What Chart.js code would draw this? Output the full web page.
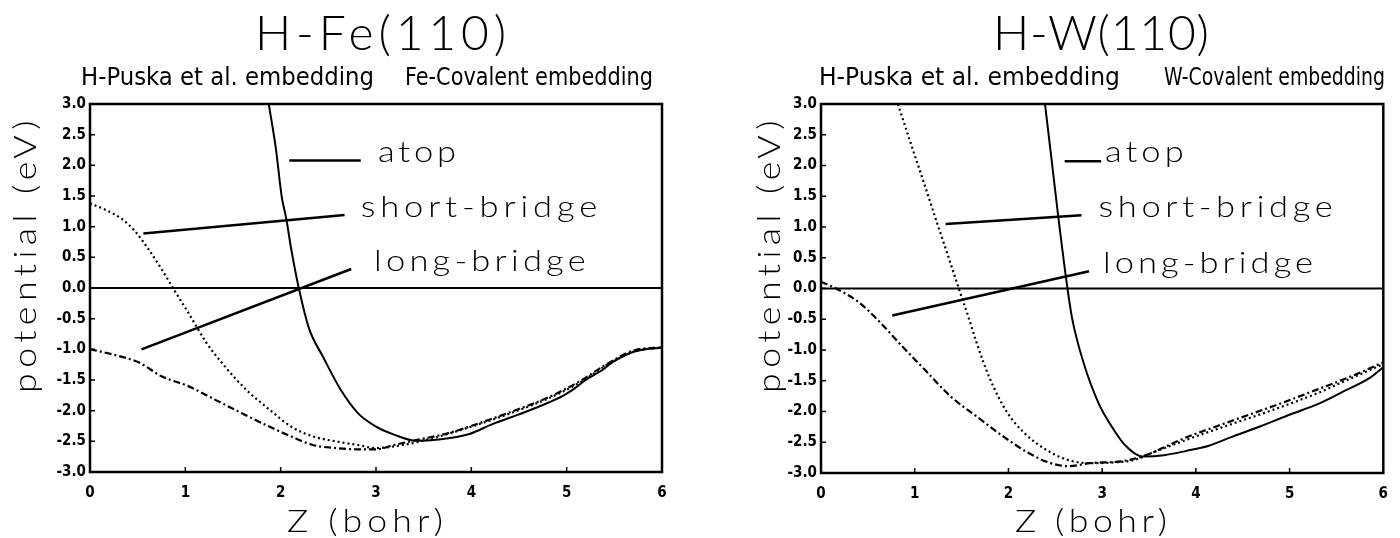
<!DOCTYPE html>
<html>
<head>
<meta charset="utf-8">
<script src="https://cdn.jsdelivr.net/npm/chart.js@4.4.1/dist/chart.umd.min.js"></script>
<style>
  html, body { margin: 0; padding: 0; background: #fff; }
  #wrap { display: flex; width: 1400px; height: 538px; }
  .cell { position: relative; width: 700px; height: 538px; }
</style>
</head>
<body>
<div id="wrap">
  <div class="cell"><canvas id="fe" width="700" height="538"></canvas></div>
  <div class="cell"><canvas id="w" width="700" height="538"></canvas></div>
</div>
<script>
// ---- axis range and tick labels ----
const zRange = [0, 6];
const vRange = [-3, 3];
const zTicks = [0, 1, 2, 3, 4, 5, 6];
const vTickLabels = ['3.0', '2.5', '2.0', '1.5', '1.0', '0.5', '0.0', '-0.5', '-1.0', '-1.5', '-2.0', '-2.5', '-3.0'];
const siteNames = ['atop', 'short-bridge', 'long-bridge'];

// ---- H on Fe(110): potential (eV) vs Z (bohr) ----
const feAtopZ = [1.875, 1.95, 2.01, 2.06, 2.11, 2.19, 2.30, 2.44, 2.63, 2.81, 3.00, 3.19, 3.42, 3.66, 3.98, 4.22, 4.50, 4.73, 4.97, 5.08, 5.20, 5.39, 5.49, 5.72, 6.00];
const feAtopV = [3.00, 2.27, 1.50, 1.12, 0.64, 0.00, -0.67, -1.11, -1.66, -2.04, -2.26, -2.39, -2.49, -2.47, -2.38, -2.22, -2.06, -1.92, -1.75, -1.64, -1.50, -1.32, -1.20, -1.03, -0.97];
const feShortZ = [0.00, 0.14, 0.33, 0.47, 0.61, 0.75, 0.87, 1.03, 1.22, 1.41, 1.64, 1.88, 2.11, 2.34, 2.58, 2.81, 3.00, 3.28, 3.52, 3.98, 4.45, 4.92, 5.16, 5.44, 5.72, 6.00];
const feShortV = [1.38, 1.29, 1.13, 0.93, 0.64, 0.31, 0.00, -0.40, -0.89, -1.27, -1.66, -1.98, -2.26, -2.42, -2.50, -2.56, -2.61, -2.56, -2.48, -2.27, -2.02, -1.72, -1.52, -1.24, -1.03, -0.97];
const feLongZ = [0.00, 0.23, 0.52, 0.75, 1.03, 1.31, 1.59, 1.88, 2.11, 2.34, 2.58, 2.81, 3.00, 3.19, 3.42, 3.75, 3.98, 4.22, 4.45, 4.69, 4.92, 5.16, 5.39, 5.72, 6.00];
const feLongV = [-1.00, -1.08, -1.22, -1.44, -1.60, -1.82, -2.04, -2.26, -2.42, -2.56, -2.61, -2.63, -2.63, -2.56, -2.48, -2.37, -2.26, -2.13, -2.00, -1.86, -1.70, -1.50, -1.27, -1.01, -0.97];

// ---- H on W(110) ----
const wAtopZ = [2.39, 2.46, 2.53, 2.63, 2.68, 2.80, 2.96, 3.10, 3.24, 3.43, 3.66, 3.90, 4.13, 4.37, 4.69, 5.02, 5.30, 5.58, 5.86, 6.00];
const wAtopV = [3.00, 2.10, 1.19, 0.00, -0.49, -1.20, -1.86, -2.24, -2.54, -2.73, -2.71, -2.64, -2.56, -2.42, -2.24, -2.04, -1.88, -1.67, -1.45, -1.28];
const wShortZ = [0.82, 0.96, 1.10, 1.24, 1.38, 1.47, 1.57, 1.66, 1.80, 1.98, 2.17, 2.40, 2.64, 2.87, 3.10, 3.34, 3.52, 3.90, 4.37, 4.83, 5.30, 5.67, 6.00];
const wShortV = [3.00, 2.35, 1.71, 1.06, 0.42, 0.00, -0.45, -0.88, -1.46, -2.00, -2.35, -2.62, -2.79, -2.84, -2.83, -2.79, -2.68, -2.46, -2.21, -1.97, -1.70, -1.45, -1.23];
const wLongZ = [0.00, 0.16, 0.40, 0.63, 0.86, 1.10, 1.38, 1.66, 1.94, 2.22, 2.45, 2.64, 2.87, 3.20, 3.43, 3.90, 4.37, 4.83, 5.30, 5.67, 6.00];
const wLongV = [0.11, 0.00, -0.22, -0.55, -0.93, -1.31, -1.75, -2.08, -2.40, -2.68, -2.84, -2.89, -2.84, -2.81, -2.73, -2.42, -2.16, -1.91, -1.64, -1.42, -1.20];

// leader lines from each site label to its curve: [z1, v1, z2, v2]
const feLeaders = [[2.09, 2.08, 2.84, 2.08], [0.56, 0.89, 2.67, 1.19], [0.54, -1.00, 2.74, 0.31]];
const wLeaders = [[2.60, 2.07, 2.99, 2.07], [1.33, 1.05, 2.78, 1.19], [0.76, -0.44, 2.86, 0.28]];

const toPts = (zs, vs) => zs.map((z, i) => ({ x: z, y: vs[i] }));

const PLOT_FONT = 'Lato, Roboto, "DejaVu Sans", sans-serif';
const NARROW_FONT = '"Liberation Sans Narrow", "DejaVu Sans Condensed", Roboto, sans-serif';
const TICK_FONT = '"DejaVu Sans Condensed", "Liberation Sans Narrow", "DejaVu Sans", sans-serif';

// text stretched by sx and letter-spaced to run from x0 to x1
function spaced(ctx, text, x0, x1, y, font, sx) {
  sx = sx || 1;
  ctx.font = font;
  ctx.letterSpacing = '0px';
  const w = ctx.measureText(text).width;
  const n = [...text].length;
  const span = (x1 - x0) / sx;
  const sp = n > 1 ? (span - w) / (n - 1) : 0;
  ctx.save();
  ctx.translate(x0, y);
  ctx.scale(sx, 1);
  ctx.letterSpacing = sp.toFixed(2) + 'px';
  ctx.textAlign = 'left';
  ctx.fillText(text, 0, 0);
  ctx.restore();
  ctx.letterSpacing = '0px';
}
// narrow text squeezed to span x0..x1
function fitted(ctx, text, x0, x1, y, font) {
  ctx.font = font;
  ctx.letterSpacing = '0px';
  const w = ctx.measureText(text).width;
  ctx.save();
  ctx.translate(x0, y);
  ctx.scale((x1 - x0) / w, 1);
  ctx.textAlign = 'left';
  ctx.fillText(text, 0, 0);
  ctx.restore();
}

const panelText = {
  id: 'panelText',
  afterDraw(chart, args, o) {
    const ctx = chart.ctx, a = chart.chartArea;
    const xs = chart.scales.x, ys = chart.scales.y;
    ctx.save();
    ctx.strokeStyle = '#000';
    ctx.fillStyle = '#000';
    // frame
    ctx.lineWidth = 2.5;
    ctx.strokeRect(a.left, a.top, a.right - a.left, a.bottom - a.top);
    // inward tick marks
    ctx.lineWidth = 1.5;
    ctx.beginPath();
    xs.ticks.forEach(t => {
      const px = xs.getPixelForValue(t.value);
      ctx.moveTo(px, a.bottom); ctx.lineTo(px, a.bottom - 5);
    });
    ys.ticks.forEach(t => {
      const py = ys.getPixelForValue(t.value);
      ctx.moveTo(a.left, py); ctx.lineTo(a.left + 5, py);
    });
    ctx.stroke();
    ctx.textBaseline = 'alphabetic';
    // title and subtitle
    spaced(ctx, o.title, o.titleX[0], o.titleX[1], 50, '300 48px ' + PLOT_FONT);
    fitted(ctx, o.sub[0], o.subX[0], o.subX[1], 85, '400 25px ' + NARROW_FONT);
    fitted(ctx, o.sub[1], o.subX[2], o.subX[3], 85, '400 25px ' + NARROW_FONT);
    // axis titles
    spaced(ctx, 'Z (bohr)', o.xTitleX[0], o.xTitleX[1], 532, '300 31px ' + PLOT_FONT, 1.15);
    ctx.save();
    ctx.translate(o.yTitleX, 393);
    ctx.rotate(-Math.PI / 2);
    spaced(ctx, 'potential (eV)', 0, 273, 0, '300 31px ' + PLOT_FONT, 1.15);
    ctx.restore();
    // site labels, anchored in data units
    o.labels.forEach((L, i) => {
      const x0 = xs.getPixelForValue(L[0]);
      const x1 = xs.getPixelForValue(L[1]);
      const y = ys.getPixelForValue(L[2]);
      spaced(ctx, siteNames[i], x0, x1, y, '300 30px ' + PLOT_FONT, 1.15);
    });
    ctx.restore();
  }
};

function makePanel(id, curves, leaders, box, text) {
  const datasets = [
    { data: toPts(zRange, [0, 0]), borderWidth: 2, borderColor: '#000' },
    { data: toPts(curves[0][0], curves[0][1]), borderWidth: 2, borderColor: '#000', cubicInterpolationMode: 'monotone' },
    { data: toPts(curves[1][0], curves[1][1]), borderWidth: 2.2, borderColor: '#000', borderDash: [2, 3], cubicInterpolationMode: 'monotone' },
    { data: toPts(curves[2][0], curves[2][1]), borderWidth: 2.2, borderColor: '#000', borderDash: [7, 3, 2, 3], cubicInterpolationMode: 'monotone' }
  ];
  leaders.forEach(L => datasets.push({
    data: [{ x: L[0], y: L[1] }, { x: L[2], y: L[3] }], borderWidth: 2.5, borderColor: '#000'
  }));
  return new Chart(document.getElementById(id), {
    type: 'scatter',
    data: { datasets: datasets.map(d => Object.assign({ showLine: true, pointRadius: 0, fill: false }, d)) },
    options: {
      responsive: false,
      animation: false,
      devicePixelRatio: 1,
      layout: { padding: { left: 0, top: box.top, right: 700 - box.right, bottom: 0 } },
      plugins: { legend: { display: false }, tooltip: { enabled: false }, panelText: text },
      scales: {
        x: {
          type: 'linear', min: zRange[0], max: zRange[1],
          afterFit: s => { s.height = 538 - box.bottom; },
          afterBuildTicks: s => { s.ticks = zTicks.map(v => ({ value: v })); },
          grid: { display: false, drawTicks: false },
          border: { display: false },
          ticks: { color: '#000', padding: 12, font: { family: TICK_FONT, size: 15, weight: 'bold' }, maxRotation: 0,
                   callback: v => String(v) }
        },
        y: {
          type: 'linear', min: vRange[0], max: vRange[1],
          afterFit: s => { s.width = box.left; },
          afterBuildTicks: s => { s.ticks = vTickLabels.map(t => ({ value: parseFloat(t) })); },
          grid: { display: false, drawTicks: false },
          border: { display: false },
          ticks: { color: '#000', padding: 4, font: { family: TICK_FONT, size: 15, weight: 'bold' },
                   callback: v => vTickLabels.find(t => parseFloat(t) === v) }
        }
      }
    },
    plugins: [panelText]
  });
}

makePanel('fe',
  [[feAtopZ, feAtopV], [feShortZ, feShortV], [feLongZ, feLongV]],
  feLeaders,
  { left: 90, top: 104, right: 662, bottom: 472 },
  {
    title: 'H-Fe(110)', titleX: [255, 506],
    sub: ['H-Puska et al. embedding', 'Fe-Covalent embedding'], subX: [81, 374, 405, 653],
    xTitleX: [287, 443], yTitleX: 36,
    labels: [[3.02, 3.84, 2.05], [2.84, 5.32, 1.15], [2.98, 5.20, 0.27]]
  });

makePanel('w',
  [[wAtopZ, wAtopV], [wShortZ, wShortV], [wLongZ, wLongV]],
  wLeaders,
  { left: 121, top: 104, right: 694, bottom: 473 },
  {
    title: 'H-W(110)', titleX: [293, 509],
    sub: ['H-Puska et al. embedding', 'W-Covalent embedding'], subX: [119, 420, 464, 685],
    xTitleX: [315, 467], yTitleX: 80,
    labels: [[3.03, 3.87, 2.05], [2.96, 5.46, 1.16], [3.01, 5.25, 0.26]]
  });
</script>
</body>
</html>
